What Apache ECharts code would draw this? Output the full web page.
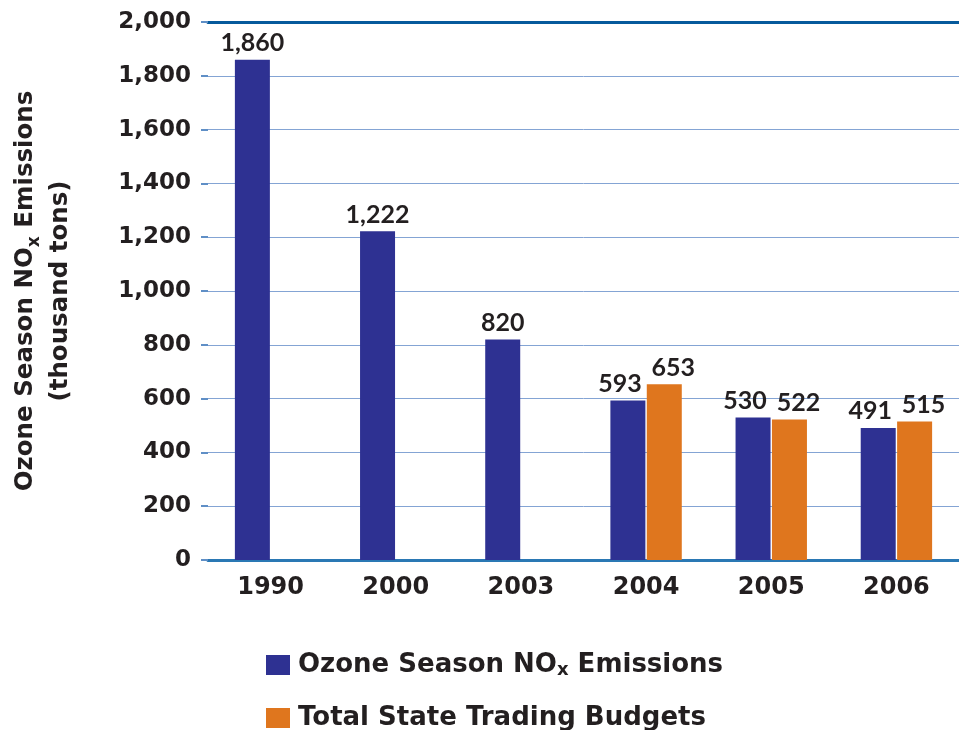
<!DOCTYPE html>
<html>
<head>
<meta charset="utf-8">
<script src="https://cdn.jsdelivr.net/npm/echarts@6/dist/echarts.min.js"></script>
<style>
  html, body { margin: 0; padding: 0; background: #ffffff; }
  #chart { width: 959px; height: 730px; }
</style>
</head>
<body>
<div id="chart"></div>
<script>
// Ozone season NOx emissions vs. state trading budgets (thousand tons)
const years = ['1990', '2000', '2003', '2004', '2005', '2006'];
const emissions = [1860, 1222, 820, 593, 530, 491];
const budgets = [null, null, null, 653, 522, 515];
const yTicks = { min: 0, max: 2000, step: 200 };
const seriesNames = ['Ozone Season NOx Emissions', 'Total State Trading Budgets'];

const HEAVY = '"DejaVu Sans", Verdana, sans-serif';
const LABEL_FONT = 'Lato, "DejaVu Sans", sans-serif';
const BLUE = '#2e3192';
const ORANGE = '#df761e';
const INK = '#231f20';

const fmt = v => String(v).replace(/\B(?=(\d{3})+(?!\d))/g, ',');

// rich styles for names with a subscript "x"
const richText = size => ({
  a: { fontFamily: HEAVY, fontWeight: 'bold', fontSize: size, color: INK },
  sub: {
    fontFamily: HEAVY, fontWeight: 'bold', fontSize: Math.round(size * 0.68), color: INK,
    verticalAlign: 'bottom', padding: [Math.round(size * 0.4), 0, 0, 0]
  }
});
const withSub = name => name.includes('NOx')
  ? '{a|' + name.replace('NOx', 'NO}{sub|x}{a|') + '}'
  : '{a|' + name + '}';

const chart = echarts.init(document.getElementById('chart'), null, { renderer: 'canvas' });

const baseLabel = {
  show: true,
  position: 'top',
  distance: 4,
  fontFamily: LABEL_FONT,
  fontWeight: 'bold',
  fontSize: 25,
  color: INK,
  formatter: p => (p.value == null ? '' : fmt(p.value))
};

// paired bars get their value labels nudged apart
const emissionData = emissions.map((v, i) =>
  budgets[i] != null ? { value: v, label: { offset: [-8, 0] } } : v);
const budgetData = budgets.map(v =>
  v != null ? { value: v, label: { offset: [9, 0] } } : v);

const legendBase = {
  left: 261,
  itemWidth: 24,
  itemHeight: 20,
  icon: 'rect',
  selectedMode: false,
  formatter: withSub,
  textStyle: { padding: [0, 0, 0, 3], rich: richText(26) }
};

chart.setOption({
  animation: false,
  backgroundColor: '#ffffff',
  grid: { left: 200, top: 22, width: 763, height: 538 },
  legend: [
    Object.assign({}, legendBase, { top: 647, data: [seriesNames[0]] }),
    Object.assign({}, legendBase, { top: 700, data: [seriesNames[1]] })
  ],
  xAxis: [
    {
      type: 'category',
      data: years,
      position: 'bottom',
      axisLine: { show: true, lineStyle: { color: '#2a78b4', width: 3 } },
      axisTick: { show: false },
      axisLabel: {
        margin: 16,
        fontFamily: HEAVY,
        fontWeight: 'bold',
        fontSize: 24,
        color: INK
      }
    },
    {
      // dark border line along the top of the plot
      type: 'category',
      data: years,
      position: 'top',
      axisLine: { show: true, lineStyle: { color: '#065a9c', width: 3 } },
      axisTick: { show: false },
      axisLabel: { show: false }
    }
  ],
  yAxis: {
    type: 'value',
    min: yTicks.min,
    max: yTicks.max,
    interval: yTicks.step,
    name: withSub(seriesNames[0]) + '\n{a|(thousand tons)}',
    nameLocation: 'middle',
    nameRotate: 90,
    nameGap: 130,
    nameTextStyle: { rich: richText(24.5), lineHeight: 35, align: 'center' },
    axisLine: { show: false },
    axisTick: { show: true, length: 7, lineStyle: { color: '#5f8fc6', width: 2 } },
    splitLine: { show: true, lineStyle: { color: '#84a4d4', width: 1 } },
    axisLabel: {
      margin: 17,
      fontFamily: HEAVY,
      fontWeight: 'bold',
      fontSize: 23,
      color: INK,
      formatter: v => fmt(v)
    }
  },
  series: [
    {
      name: seriesNames[0],
      type: 'bar',
      data: emissionData,
      barWidth: 35,
      barGap: '4%',
      itemStyle: { color: BLUE },
      label: baseLabel
    },
    {
      name: seriesNames[1],
      type: 'bar',
      data: budgetData,
      barWidth: 35,
      barGap: '4%',
      itemStyle: { color: ORANGE },
      label: baseLabel
    }
  ]
});
</script>
</body>
</html>
